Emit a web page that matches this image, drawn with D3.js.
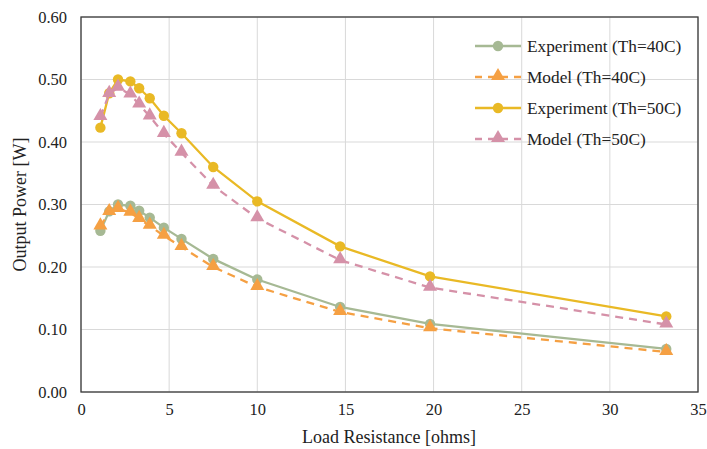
<!DOCTYPE html>
<html>
<head>
<meta charset="utf-8">
<script src="https://cdn.jsdelivr.net/npm/d3@7"></script>
<style>
body { margin: 0; background: #fff; }
text { font-family: "Liberation Serif", "Times New Roman", serif; fill: #222; }
</style>
</head>
<body>
<svg id="chart" width="707" height="449"></svg>
<script>
// load resistance values [ohms]
var resistance = [1.1, 1.6, 2.1, 2.8, 3.3, 3.9, 4.7, 5.7, 7.5, 10, 14.7, 19.8, 33.2];
// output power [W]
var exp40 = [0.258, 0.289, 0.300, 0.298, 0.290, 0.279, 0.263, 0.245, 0.213, 0.180, 0.136, 0.109, 0.069];
var model40 = [0.265, 0.288, 0.293, 0.287, 0.277, 0.266, 0.250, 0.232, 0.200, 0.168, 0.128, 0.102, 0.064];
var exp50 = [0.423, 0.478, 0.500, 0.497, 0.486, 0.470, 0.442, 0.414, 0.360, 0.305, 0.233, 0.185, 0.121];
var model50 = [0.440, 0.477, 0.487, 0.476, 0.460, 0.441, 0.413, 0.383, 0.330, 0.278, 0.211, 0.167, 0.108];
var xTicks = [0, 5, 10, 15, 20, 25, 30, 35];
var yTicks = [0, 0.1, 0.2, 0.3, 0.4, 0.5, 0.6];

var series = [
  {name: "Experiment (Th=40C)", values: exp40, color: "#a6b994", dash: null, marker: "circle"},
  {name: "Model (Th=40C)", values: model40, color: "#f5a043", dash: "8,6", marker: "triangle"},
  {name: "Experiment (Th=50C)", values: exp50, color: "#e9b925", dash: null, marker: "circle"},
  {name: "Model (Th=50C)", values: model50, color: "#d591a8", dash: "8,6", marker: "triangle"}
];

var svg = d3.select("#chart");
var pLeft = 81, pRight = 698, pTop = 17, pBottom = 392;

var x = d3.scaleLinear().domain([0, 35]).range([pLeft, pRight]);
var y = d3.scaleLinear().domain([0, 0.6]).range([pBottom, pTop]);

// grid
svg.append("g")
  .selectAll("line")
  .data(xTicks)
  .enter().append("line")
  .attr("x1", d => x(d)).attr("x2", d => x(d))
  .attr("y1", pTop).attr("y2", pBottom)
  .style("stroke", "#d9d9d9").style("stroke-width", 1);
svg.append("g")
  .selectAll("line")
  .data(yTicks)
  .enter().append("line")
  .attr("x1", pLeft).attr("x2", pRight)
  .attr("y1", d => y(d)).attr("y2", d => y(d))
  .style("stroke", "#d9d9d9").style("stroke-width", 1);

// axes
var xAxis = svg.append("g")
  .attr("transform", "translate(0," + pBottom + ")")
  .call(d3.axisBottom(x).tickValues(xTicks).tickSize(0).tickPadding(11).tickFormat(d3.format("d")));
var yAxis = svg.append("g")
  .attr("transform", "translate(" + pLeft + ",0)")
  .call(d3.axisLeft(y).tickValues(yTicks).tickSize(0).tickPadding(14).tickFormat(d3.format(".2f")));
[xAxis, yAxis].forEach(function(a) {
  a.select(".domain").remove();
  a.selectAll("text").style("font-family", "Liberation Serif").style("font-size", "16.5px").style("fill", "#222");
});

// frame
svg.append("rect")
  .attr("x", pLeft).attr("y", pTop)
  .attr("width", pRight - pLeft).attr("height", pBottom - pTop)
  .style("fill", "none").style("stroke", "#3a3a3a").style("stroke-width", 1.3);

var line = d3.line()
  .x((d, i) => x(resistance[i]))
  .y(d => y(d));

var tri = d3.symbol().type(d3.symbolTriangle).size(85);

var g = svg.append("g");
series.forEach(function(s) {
  g.append("path")
    .attr("d", line(s.values))
    .style("fill", "none")
    .style("stroke", s.color)
    .style("stroke-width", 2.3)
    .style("stroke-dasharray", s.dash);
  var m = g.append("g").selectAll("x").data(s.values).enter();
  if (s.marker == "circle") {
    m.append("circle")
      .attr("cx", (d, i) => x(resistance[i]))
      .attr("cy", d => y(d))
      .attr("r", 5.2)
      .style("fill", s.color);
  } else {
    m.append("path")
      .attr("d", tri)
      .attr("transform", (d, i) => "translate(" + x(resistance[i]) + "," + (y(d) - 1) + ")")
      .style("fill", s.color);
  }
});

// legend
var legend = svg.append("g");
series.forEach(function(s, i) {
  var ly = 46 + i * 31;
  legend.append("line")
    .attr("x1", 475).attr("x2", 521).attr("y1", ly).attr("y2", ly)
    .style("stroke", s.color).style("stroke-width", 2.3)
    .style("stroke-dasharray", s.dash ? "7,6" : null);
  if (s.marker == "circle") {
    legend.append("circle").attr("cx", 498).attr("cy", ly).attr("r", 5.2).style("fill", s.color);
  } else {
    legend.append("path").attr("d", tri).attr("transform", "translate(498," + (ly - 1) + ")").style("fill", s.color);
  }
  legend.append("text")
    .attr("x", 527).attr("y", ly + 6)
    .style("font-size", "17.3px")
    .text(s.name);
});

// axis titles
svg.append("text")
  .attr("x", 389).attr("y", 443)
  .attr("text-anchor", "middle")
  .style("font-size", "18px")
  .text("Load Resistance [ohms]");
svg.append("text")
  .attr("transform", "translate(26," + ((pTop + pBottom) / 2) + ") rotate(-90)")
  .attr("text-anchor", "middle")
  .style("font-size", "18px")
  .text("Output Power [W]");
</script>
</body>
</html>
